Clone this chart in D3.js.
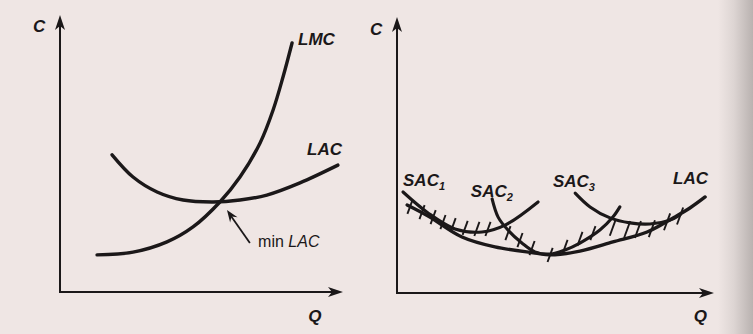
<!DOCTYPE html>
<html>
<head>
<meta charset="utf-8">
<script src="https://cdn.jsdelivr.net/npm/d3@7"></script>
<style>
  html, body { margin: 0; padding: 0; background: #efe6e4; }
  svg { display: block; }
  text { font-family: "Liberation Sans", Arial, Helvetica, sans-serif; fill: #1b1819; }
</style>
</head>
<body>
<svg id="chart" width="753" height="334"></svg>
<script>
// ---------- data (unitless Q, C; each panel 0..10) ----------
// Left panel: LMC and LAC
const leftLMC = [[1.31,1.34],[2.58,1.44],[3.78,1.81],[4.70,2.35],[5.65,3.25],[6.36,4.15],[7.07,5.38],[7.53,6.57],[7.88,7.76],[8.20,8.99]];
const leftLAC = [[1.84,4.95],[2.58,4.15],[3.43,3.61],[4.35,3.32],[5.41,3.25],[6.36,3.32],[7.31,3.50],[8.48,3.94],[9.82,4.58]];
const minLacArrow = [[6.71,1.77],[5.90,2.96]];

// Right panel: LAC envelope and short-run curves
const rightLAC = [[0.32,3.19],[0.98,2.79],[2.05,2.03],[3.09,1.67],[4.35,1.45],[4.83,1.38],[5.77,1.52],[6.81,1.85],[7.89,2.21],[8.71,2.72],[9.24,3.08],[9.72,3.48]];
const sac1 = [[0.19,3.66],[0.98,2.90],[1.83,2.32],[2.68,2.21],[3.41,2.46],[4.45,3.30]];
const sac2 = [[3.00,3.41],[3.19,2.75],[3.50,2.28],[3.94,1.81],[4.35,1.49],[4.83,1.41],[5.30,1.56],[5.77,1.81],[6.40,2.28],[6.81,2.75],[7.03,3.12]];
const sac3 = [[5.62,3.62],[6.09,3.12],[6.72,2.72],[7.35,2.54],[7.98,2.50],[8.61,2.64],[8.93,2.83]];
const hatchMarks = [[0.41,3.12],[0.79,2.93],[1.14,2.75],[1.45,2.57],[1.77,2.46],[2.15,2.36],[2.52,2.32],[2.87,2.32],[3.50,2.17],[3.88,1.92],[4.26,1.63],[4.83,1.38],[5.30,1.67],[5.77,1.96],[6.18,2.17],[6.81,2.38],[7.26,2.30],[7.60,2.30],[8.04,2.33],[8.52,2.58],[8.93,2.79]];

// Labels
const axisLabels = { y: "C", x: "Q" };
const leftCurveLabels = [
  { text: "LMC", at: [8.41, 8.92] },
  { text: "LAC", at: [8.73, 4.95] }
];
const rightCurveLabels = [
  { text: "SAC", sub: "1", at: [0.19, 3.89] },
  { text: "SAC", sub: "2", at: [2.33, 3.49] },
  { text: "SAC", sub: "3", at: [4.92, 3.85] },
  { text: "LAC", at: [8.71, 3.95] }
];

// ---------- drawing ----------
const svg = d3.select("#chart");
const ink = "#1b1819";

// paper background with darker right edge
const defs = svg.append("defs");
const g1 = defs.append("linearGradient").attr("id", "edge").attr("x1", "0").attr("x2", "1");
g1.append("stop").attr("offset", "0").attr("stop-color", "#efe6e4");
g1.append("stop").attr("offset", "0.45").attr("stop-color", "#ddd5d3");
g1.append("stop").attr("offset", "1").attr("stop-color", "#b9b2b0");
svg.append("rect").attr("width", 753).attr("height", 334).attr("fill", "#efe6e4");
svg.append("rect").attr("x", 718).attr("width", 35).attr("height", 334).attr("fill", "url(#edge)");

const xL = d3.scaleLinear([0, 10], [60, 343]);
const yL = d3.scaleLinear([0, 10], [292, 15]);
const xR = d3.scaleLinear([0, 10], [397, 714]);
const yR = d3.scaleLinear([0, 10], [293, 17]);

function arrowHead(g, tipX, tipY, dir) {
  const L = 15, W = 5, N = 11;
  let pts;
  if (dir === "up") pts = [[tipX, tipY], [tipX - W, tipY + L], [tipX, tipY + N], [tipX + W, tipY + L]];
  else pts = [[tipX, tipY], [tipX - L, tipY - W], [tipX - N, tipY], [tipX - L, tipY + W]];
  g.append("path").attr("d", "M" + pts.map(p => p.join(",")).join("L") + "Z").attr("fill", ink);
}

function drawAxes(x, y, cPos, qPos) {
  const g = svg.append("g");
  g.append("line").attr("x1", x(0)).attr("x2", x(0)).attr("y1", y(0) + 1).attr("y2", y(10) + 8)
    .attr("stroke", ink).attr("stroke-width", 2);
  g.append("line").attr("x1", x(0) - 1).attr("x2", x(10) - 8).attr("y1", y(0)).attr("y2", y(0))
    .attr("stroke", ink).attr("stroke-width", 2);
  arrowHead(g, x(0), y(10), "up");
  arrowHead(g, x(10), y(0), "right");
  g.append("text").attr("x", cPos[0]).attr("y", cPos[1]).text(axisLabels.y)
    .attr("font-size", 17).attr("font-style", "italic").attr("font-weight", "bold");
  g.append("text").attr("x", qPos[0]).attr("y", qPos[1]).text(axisLabels.x)
    .attr("font-size", 17).attr("font-style", "italic").attr("font-weight", "bold");
}

drawAxes(xL, yL, [xL(0) - 27, yL(9.37)], [xL(8.77), yL(0) + 30]);
drawAxes(xR, yR, [xR(0) - 27, yR(9.35)], [xR(9.36), yR(0) + 29]);

function curve(data, x, y, w) {
  const line = d3.line().x(d => x(d[0])).y(d => y(d[1])).curve(d3.curveCatmullRom.alpha(0.5));
  svg.append("path").attr("d", line(data)).attr("fill", "none")
    .attr("stroke", ink).attr("stroke-width", w || 3.4).attr("stroke-linecap", "round");
}

// left panel
curve(leftLMC, xL, yL);
curve(leftLAC, xL, yL);
leftCurveLabels.forEach(l => {
  svg.append("text").attr("x", xL(l.at[0])).attr("y", yL(l.at[1])).text(l.text)
    .attr("font-size", 17).attr("font-style", "italic").attr("font-weight", "bold");
});
// min LAC annotation arrow
{
  const [a, b] = minLacArrow;
  svg.append("line").attr("x1", xL(a[0])).attr("y1", yL(a[1]))
    .attr("x2", xL(b[0]) + 4).attr("y2", yL(b[1]) + 6)
    .attr("stroke", ink).attr("stroke-width", 1.8);
  const tx = xL(b[0]), ty = yL(b[1]);
  const ang = Math.atan2(yL(a[1]) - ty, xL(a[0]) - tx);
  const L = 12, W = 4.5;
  const ux = Math.cos(ang), uy = Math.sin(ang);
  const pts = [[tx, ty], [tx + L * ux - W * uy, ty + L * uy + W * ux], [tx + 8 * ux, ty + 8 * uy], [tx + L * ux + W * uy, ty + L * uy - W * ux]];
  svg.append("path").attr("d", "M" + pts.map(p => p.join(",")).join("L") + "Z").attr("fill", ink);
  const t = svg.append("text").attr("x", xL(7.0)).attr("y", yL(1.62)).attr("font-size", 16);
  t.append("tspan").text("min ");
  t.append("tspan").attr("font-style", "italic").text("LAC");
}

// right panel
curve(rightLAC, xR, yR);
curve(sac1, xR, yR, 3.1);
curve(sac2, xR, yR, 3.1);
curve(sac3, xR, yR, 3.1);
const lean = 20 * Math.PI / 180;
svg.append("g").selectAll("line").data(hatchMarks).join("line")
  .each(function(d, i) {
    const half = i >= 15 ? 9 : 7.5;
    d3.select(this)
      .attr("x1", xR(d[0]) - half * Math.sin(lean)).attr("y1", yR(d[1]) + half * Math.cos(lean))
      .attr("x2", xR(d[0]) + half * Math.sin(lean)).attr("y2", yR(d[1]) - half * Math.cos(lean));
  })
  .attr("stroke", ink).attr("stroke-width", 1.9);
rightCurveLabels.forEach(l => {
  const t = svg.append("text").attr("x", xR(l.at[0])).attr("y", yR(l.at[1]))
    .attr("font-size", 17).attr("font-style", "italic").attr("font-weight", "bold");
  t.append("tspan").text(l.text);
  if (l.sub) t.append("tspan").attr("font-size", 11).attr("dy", 4).text(l.sub);
});
</script>
</body>
</html>
